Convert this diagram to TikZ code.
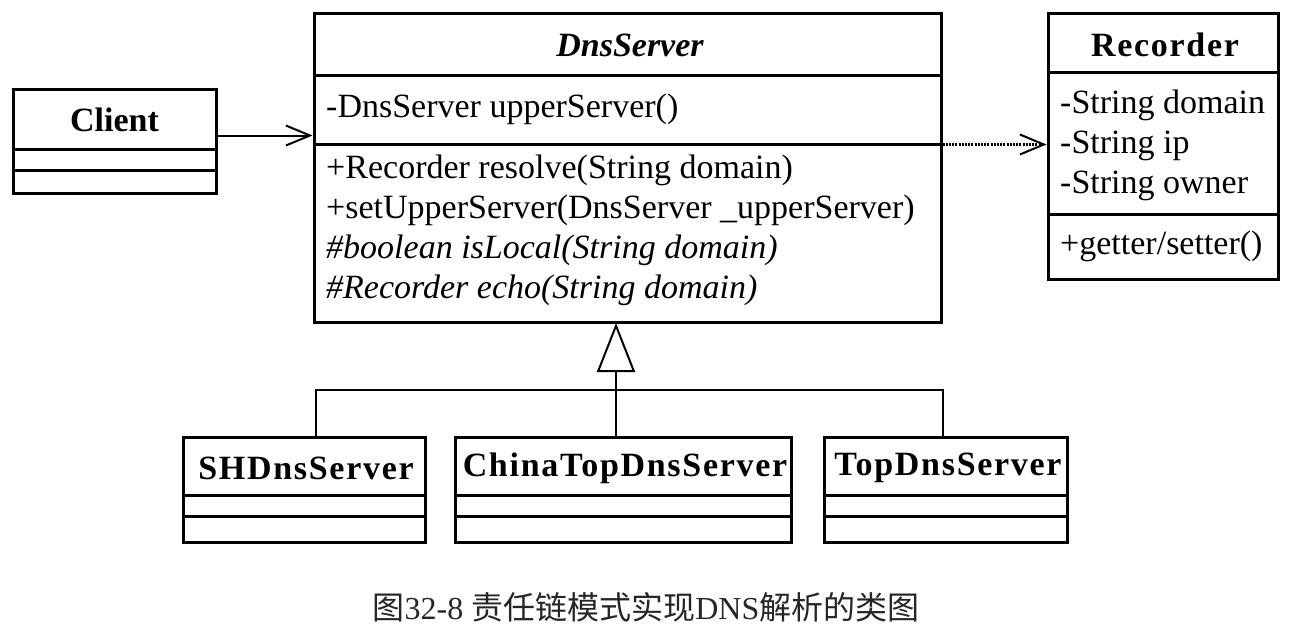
\documentclass[tikz,border=0pt]{standalone}
\usepackage{fontspec}
\setmainfont{Liberation Serif}
\newfontfamily\spacedbf[LetterSpace=5]{Liberation Serif}
\newfontfamily\cjk{Noto Sans CJK SC}
\usetikzlibrary{arrows.meta,calc}
\tikzset{
  classbox/.style={draw, line width=3pt, rectangle, inner sep=0pt},
  divider/.style={line width=2.5pt},
  cname/.style={font=\fontsize{34}{34}\selectfont\bfseries},
  sname/.style={font=\fontsize{34}{34}\spacedbf\bfseries},
  member/.style={font=\fontsize{34}{34}\selectfont, anchor=west, inner sep=0pt},
  imember/.style={member, font=\fontsize{34}{34}\selectfont\itshape},
  assoc/.style={line width=2pt, -{Straight Barb[length=24pt,width=20pt,line width=2pt]}},
  depend/.style={line width=2.5pt, dash pattern=on 2pt off 1.2pt, -{Straight Barb[length=24pt,width=20pt,line width=2pt]}},
  genline/.style={line width=2pt},
  gen/.style={line width=2pt, -{Triangle[open,length=49pt,width=38pt,line width=2pt]}}
}
\begin{document}
\begin{tikzpicture}[x=1pt,y=-1pt]
\useasboundingbox (0,0) rectangle (1293,632);
% Client
\node[classbox, minimum width=203pt, minimum height=104pt] (client) at (114.5,141) {};
\node[cname] (clientname) at (114.5,120) {Client};
\draw[divider] ($(client.north west)+(0,62)$) -- ($(client.north east)+(0,62)$);
\draw[divider] ($(client.north west)+(0,83)$) -- ($(client.north east)+(0,83)$);
% DnsServer
\node[classbox, minimum width=627pt, minimum height=309pt] (dns) at (627.5,167.5) {};
\node[cname, font=\fontsize{34}{34}\selectfont\bfseries\itshape] (dnsname) at (630,45) {DnsServer};
\draw[divider] ($(dns.north west)+(0,64)$) -- ($(dns.north east)+(0,64)$);
\draw[divider] ($(dns.north west)+(0,133)$) -- ($(dns.north east)+(0,133)$);
\node[member] (d1) at (326,109) {-DnsServer upperServer()};
\node[member] (d2) at (326,170) {+Recorder resolve(String domain)};
\node[member] (d3) at (326,210) {+setUpperServer(DnsServer \_upperServer)};
\node[imember] (d4) at (326,250) {\#boolean isLocal(String domain)};
\node[imember] (d5) at (326,290) {\#Recorder echo(String domain)};
% Recorder
\node[classbox, minimum width=230pt, minimum height=266pt] (rec) at (1163,146) {};
\node[sname] (recname) at (1165,45) {Recorder};
\draw[divider] ($(rec.north west)+(0,61)$) -- ($(rec.north east)+(0,61)$);
\draw[divider] ($(rec.north west)+(0,203)$) -- ($(rec.north east)+(0,203)$);
\node[member] (r1) at (1060,105) {-String domain};
\node[member] (r2) at (1060,146) {-String ip};
\node[member] (r3) at (1060,186) {-String owner};
\node[member] (r4) at (1060,246) {+getter/setter()};
% Subclasses
\node[classbox, minimum width=242pt, minimum height=105pt] (sh) at (304,489.5) {};
\node[sname] (shname) at (306,468) {SHDnsServer};
\node[classbox, minimum width=336pt, minimum height=105pt] (china) at (623,489.5) {};
\node[sname] (chinaname) at (625,468) {ChinaTopDnsServer};
\node[classbox, minimum width=243pt, minimum height=105pt] (top) at (945.5,489.5) {};
\node[sname] (topname) at (948,468) {TopDnsServer};
\foreach \n in {sh,china,top}{
  \draw[divider] ($(\n.north west)+(0,60)$) -- ($(\n.north east)+(0,60)$);
  \draw[divider] ($(\n.north west)+(0,81)$) -- ($(\n.north east)+(0,81)$);
}
% Connectors
\coordinate (ca) at ($(client.north east)+(0,48)$);
\draw[assoc] (ca) -- (ca -| dns.west);
\coordinate (da) at ($(dns.north east)+(0,133)$);
\draw[depend] (da) -- (da -| rec.west);
\coordinate (apex) at (616,323);
\coordinate (busc) at (616,390);
\coordinate (busl) at (316,390);
\coordinate (busr) at (943,390);
\draw[gen] (busc |- china.north) -- (apex);
\draw[genline] (busl |- sh.north) -- (busl) -- (busr) -- (busr |- top.north);
% Caption
\node[font=\fontsize{32}{32}\selectfont, text=black!85] (cap) at (646,607) {{\cjk 图}32-8 {\cjk 责任链模式实现}DNS{\cjk 解析的类图}};
\end{tikzpicture}
\end{document}
